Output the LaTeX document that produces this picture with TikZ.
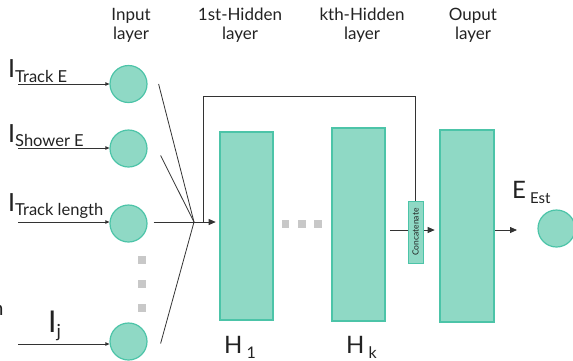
\documentclass[tikz,border=0pt]{standalone}
\usepackage{fontspec}
\setmainfont{Lato}
\usetikzlibrary{arrows.meta,calc}
\definecolor{tfill}{HTML}{8FD9C5}
\definecolor{tedge}{HTML}{4CC4A8}
\definecolor{lnc}{HTML}{333333}
\definecolor{dotc}{HTML}{C8C8C8}
\definecolor{txt}{HTML}{222222}
\newcommand{\fs}[1]{\fontsize{#1}{#1}\selectfont}
\begin{document}
\begin{tikzpicture}[x=1pt,y=-1pt,
  neuron/.style={circle,draw=tedge,fill=tfill,line width=1.2pt,minimum size=37pt,inner sep=0pt},
  layerbox/.style={rectangle,draw=tedge,fill=tfill,line width=2.6pt,inner sep=0pt},
  concatbox/.style={rectangle,draw=tedge,fill=tfill,line width=0.8pt,inner sep=0pt,minimum width=15pt,minimum height=62pt},
  gdot/.style={rectangle,fill=dotc,inner sep=0pt,minimum size=7.5pt},
  conn/.style={draw=lnc,line width=0.8pt},
  arr/.style={conn,-{Triangle[length=7pt,width=6pt]}},
  inarr/.style={conn,-{Triangle[length=4pt,width=3.5pt]}},
  head/.style={align=center,font=\fs{17},text=txt,inner sep=0pt},
  lbl/.style={text=txt,inner sep=0pt}
]
\useasboundingbox (0,0) rectangle (573,360);

% headings
\node[head,anchor=base] (hin) at (131,39) {Input\\[2pt]layer};
\node[head,anchor=base] (hh1) at (240,39) {1st-Hidden\\[2pt]layer};
\node[head,anchor=base] (hhk) at (362,39) {kth-Hidden\\[2pt]layer};
\node[head,anchor=base] (hout) at (473,39) {Ouput\\[2pt]layer};

% input neurons
\node[neuron] (c1) at (128.5,84) {};
\node[neuron] (c2) at (128.5,148.5) {};
\node[neuron] (c3) at (128.5,223.5) {};
\node[neuron] (c4) at (128.5,341.5) {};

% vertical dots
\node[gdot] (vd1) at (142,260) {};
\node[gdot] (vd2) at (142,284) {};
\node[gdot] (vd3) at (142,308) {};

% input start points
\coordinate (s1) at (18,84);
\coordinate (s2) at (18,148);
\coordinate (s3) at (18,222);
\coordinate (s4) at (18,344);
\draw[inarr] (s1) -- (s1 -| c1.west);
\draw[inarr] (s2) -- (s2 -| c2.west);
\draw[inarr] (s3) -- (s3 -| c3.west);
\draw[inarr] (s4) -- (s4 -| c4.west);

% input labels
\node[lbl,anchor=base west] (l1) at (8,77) {\fs{25}I\raisebox{-5pt}{\fs{16.5}Track E}};
\node[lbl,anchor=base west] (l2) at (8,142) {\fs{25}I\raisebox{-4pt}{\fs{16.5}Shower E}};
\node[lbl,anchor=base west] (l3) at (8,211) {\fs{25}I\raisebox{-4pt}{\fs{16.5}Track length}};
\node[lbl,anchor=base west] (l4) at (48,332) {\fs{30}I\raisebox{-5pt}{\fs{18}j}};
\node[lbl,anchor=base east] (frag) at (3.8,315) {\fs{20}n};

% convergence
\coordinate (conv) at (194,222);
\draw[conn] ([xshift=11pt]c1.east) -- (conv);
\draw[conn] ([xshift=13pt,yshift=-7pt]c2.east) -- (conv);
\draw[conn] ([xshift=6pt]c3.east |- conv) -- (conv);
\draw[conn] ([xshift=13pt,yshift=-2pt]c4.east) -- (conv);

% hidden and output layers
\node[layerbox,minimum width=53pt,minimum height=188pt] (h1) at (246.5,226) {};
\node[layerbox,minimum width=53pt,minimum height=193pt] (hk) at (358.5,224.5) {};
\node[layerbox,minimum width=54pt,minimum height=192pt] (out) at (467,226) {};

\draw[arr] (conv) -- ([xshift=-3pt]conv -| h1.west);

% horizontal dots
\node[gdot] (hd1) at (285.5,224) {};
\node[gdot] (hd2) at (302,224) {};
\node[gdot] (hd3) at (318,224) {};

% concat arrow
\coordinate (ha) at (390,230);
\draw[arr] (ha) -- ([xshift=-4pt]ha -| out.west);
\node[concatbox] (cat) at (415.5,232) {};
\node[rotate=90,font=\fs{8.5},text=txt,inner sep=0pt] (cattext) at (cat.center) {Concatenate};

% skip connection
\coordinate (skip) at (203,222);
\coordinate (sktop) at (203,96);
\draw[conn] (skip) -- (sktop) -| (cat.north);

% output
\coordinate (oa) at (495,230);
\draw[arr] (oa) -- (517,230);
\node[neuron] (oc) at (556.5,228.5) {};
\node[lbl,anchor=base west] (elbl) at (512,198) {\fs{24}E\,\raisebox{-5pt}{\fs{15}Est}};

% layer names
\node[lbl,anchor=base west] (n1) at (224,353) {\fs{24}H\,\raisebox{-5pt}{\fs{16}1}};
\node[lbl,anchor=base west] (nk) at (346,353) {\fs{24}H\,\raisebox{-5pt}{\fs{16}k}};
\end{tikzpicture}
\end{document}
